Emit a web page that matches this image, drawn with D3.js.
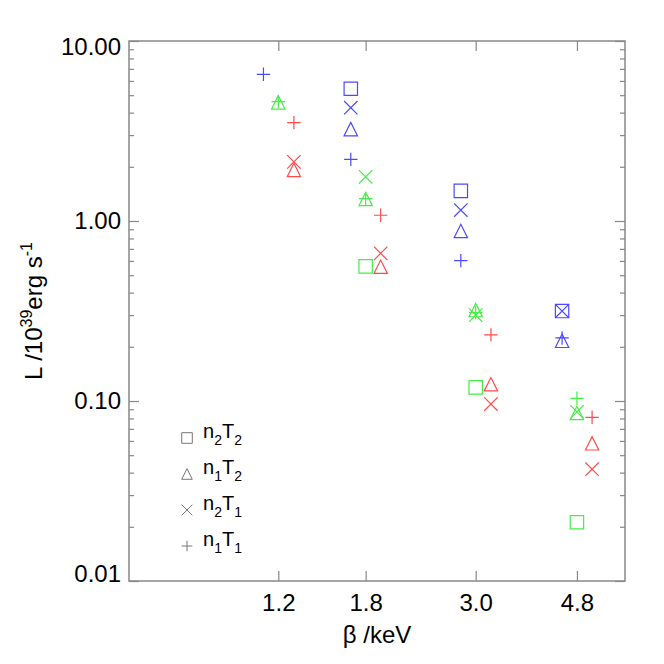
<!DOCTYPE html>
<html>
<head>
<meta charset="utf-8">
<script src="https://cdn.jsdelivr.net/npm/d3@7"></script>
<style>
  body { margin: 0; background: #fff; }
  text { font-family: "Liberation Sans", Arial, sans-serif; fill: #000; }
</style>
</head>
<body>
<div id="chart"></div>
<script>
// beta tick values and the x positions of each colour group
var betaTicks = [1.2, 1.8, 3.0, 4.8];
var xBlue  = [1.12, 1.68, 2.80, 4.48];
var xGreen = [1.20, 1.80, 3.00, 4.80];
var xRed   = [1.29, 1.93, 3.22, 5.15];

// luminosities, 1e39 erg/s ; null = not drawn
var blueN2T2 = [null, 5.43, 1.47, 0.316];
var blueN1T2 = [null, 3.24, 0.88, 0.216];
var blueN2T1 = [null, 4.26, 1.15, 0.316];
var blueN1T1 = [6.53, 2.20, 0.602, 0.224];

var greenN2T2 = [null, 0.56, 0.119, 0.0212];
var greenN1T2 = [4.56, 1.325, 0.32, 0.0858];
var greenN2T1 = [null, 1.76, 0.30, 0.087];
var greenN1T1 = [4.6, 1.33, 0.31, 0.1035];

var redN2T2 = [null, null, null, null];
var redN1T2 = [1.92, 0.557, 0.124, 0.0582];
var redN2T1 = [2.13, 0.661, 0.0962, 0.0418];
var redN1T1 = [3.52, 1.076, 0.233, 0.0812];

var yTicks = [0.01, 0.1, 1, 10];
var legendLabels = [["n", "2", "T", "2"], ["n", "1", "T", "2"], ["n", "2", "T", "1"], ["n", "1", "T", "1"]];
var symbols = ["square", "triangle", "x", "plus"];

var width = 664, height = 664;
var box = {left: 129, right: 625, top: 41, bottom: 581};
var axisColor = "#888";

var x = d3.scaleLog().domain([0.6, 6]).range([box.left, box.right]);
var y = d3.scaleLog().domain([0.01, 10]).range([box.bottom, box.top]);

var svg = d3.select("#chart").append("svg")
    .attr("width", width)
    .attr("height", height);

// minor y ticks 2..9 in each decade
var yMinor = [];
[0.01, 0.1, 1].forEach(function(d) {
  for (var k = 2; k <= 9; k++) yMinor.push(d * k);
});

function styleAxis(g) {
  g.select(".domain").remove();
  g.selectAll(".tick line").attr("stroke", axisColor).attr("stroke-width", 1.2);
  g.selectAll(".tick text").style("font-size", "24px").style("font-family", "Liberation Sans, Arial, sans-serif").attr("fill", "#000");
}

// bottom
svg.append("g")
    .attr("transform", "translate(0," + box.bottom + ")")
    .call(d3.axisBottom(x).tickValues(betaTicks).tickFormat(d3.format(".1f")).tickSizeInner(-10).tickSizeOuter(0).tickPadding(13))
    .call(styleAxis);
// top
svg.append("g")
    .attr("transform", "translate(0," + box.top + ")")
    .call(d3.axisTop(x).tickValues(betaTicks).tickFormat("").tickSizeInner(-10).tickSizeOuter(0))
    .call(styleAxis);
// left
var yAxisG = svg.append("g")
    .attr("transform", "translate(" + box.left + ",0)")
    .call(d3.axisLeft(y).tickValues(yTicks).tickFormat(d3.format(".2f")).tickSizeInner(-10).tickSizeOuter(0).tickPadding(8))
    .call(styleAxis);
// end labels sit a little inside the box, as in the original
yAxisG.selectAll(".tick text")
    .attr("y", function(d) { return d == 10 ? 6 : (d == 0.01 ? -7 : 0); });
svg.append("g")
    .attr("transform", "translate(" + box.left + ",0)")
    .call(d3.axisLeft(y).tickValues(yMinor).tickFormat("").tickSizeInner(-5).tickSizeOuter(0))
    .call(styleAxis);
// right
svg.append("g")
    .attr("transform", "translate(" + box.right + ",0)")
    .call(d3.axisRight(y).tickValues(yTicks).tickFormat("").tickSizeInner(-10).tickSizeOuter(0))
    .call(styleAxis);
svg.append("g")
    .attr("transform", "translate(" + box.right + ",0)")
    .call(d3.axisRight(y).tickValues(yMinor).tickFormat("").tickSizeInner(-5).tickSizeOuter(0))
    .call(styleAxis);

svg.append("rect")
    .attr("x", box.left)
    .attr("y", box.top)
    .attr("width", box.right - box.left)
    .attr("height", box.bottom - box.top)
    .attr("fill", "none")
    .attr("stroke", axisColor)
    .attr("stroke-width", 1.5);

function markerPath(type, r) {
  if (type == "square") return "M" + (-r) + "," + (-r) + "h" + 2 * r + "v" + 2 * r + "h" + (-2 * r) + "Z";
  if (type == "triangle") return "M" + (-r) + "," + r + "L0," + (-r) + "L" + r + "," + r + "Z";
  if (type == "x") return "M" + (-r) + "," + (-r) + "L" + r + "," + r + "M" + (-r) + "," + r + "L" + r + "," + (-r);
  return "M" + (-r) + ",0H" + r + "M0," + (-r) + "V" + r;
}

var groups = [
  {color: "#4a4aff", xs: xBlue,  series: [blueN2T2, blueN1T2, blueN2T1, blueN1T1]},
  {color: "#44ee44", xs: xGreen, series: [greenN2T2, greenN1T2, greenN2T1, greenN1T1]},
  {color: "#ff4a4a", xs: xRed,   series: [redN2T2, redN1T2, redN2T1, redN1T1]}
];

groups.forEach(function(gr) {
  gr.series.forEach(function(vals, si) {
    var pts = vals.map(function(v, i) { return {x: gr.xs[i], v: v}; })
      .filter(function(d) { return d.v != null; });
    svg.append("g").selectAll("path")
        .data(pts)
      .enter().append("path")
        .attr("transform", function(d) { return "translate(" + x(d.x) + "," + y(d.v) + ")"; })
        .attr("d", markerPath(symbols[si], 6.7))
        .attr("fill", "none")
        .attr("stroke", gr.color)
        .attr("stroke-width", 1.2);
  });
});

// legend
var legend = svg.append("g").selectAll("g")
    .data(legendLabels)
  .enter().append("g")
    .attr("transform", function(d, i) { return "translate(187," + (438 + i * 36) + ")"; });

legend.append("path")
    .attr("d", function(d, i) { return markerPath(symbols[i], 5.3); })
    .attr("fill", "none")
    .attr("stroke", "#777")
    .attr("stroke-width", 1);

legend.append("text")
    .attr("x", 16)
    .attr("y", 0)
    .style("font-size", "20px")
    .each(function(d) {
      var t = d3.select(this);
      t.append("tspan").text(d[0]);
      t.append("tspan").attr("dy", 7).style("font-size", "14px").text(d[1]);
      t.append("tspan").attr("dy", -7).text(d[2]);
      t.append("tspan").attr("dy", 7).style("font-size", "14px").text(d[3]);
    });

// axis titles
svg.append("text")
    .attr("x", (box.left + box.right) / 2)
    .attr("y", 643)
    .attr("text-anchor", "middle")
    .style("font-size", "24px")
    .text("β /keV");

var yTitle = svg.append("text")
    .attr("transform", "translate(42," + ((box.top + box.bottom) / 2) + ") rotate(-90)")
    .attr("text-anchor", "middle")
    .style("font-size", "24px");
yTitle.append("tspan").text("L /10");
yTitle.append("tspan").attr("dy", -10).style("font-size", "16px").text("39");
yTitle.append("tspan").attr("dy", 10).text("erg s");
yTitle.append("tspan").attr("dy", -10).style("font-size", "16px").text("-1");
</script>
</body>
</html>
